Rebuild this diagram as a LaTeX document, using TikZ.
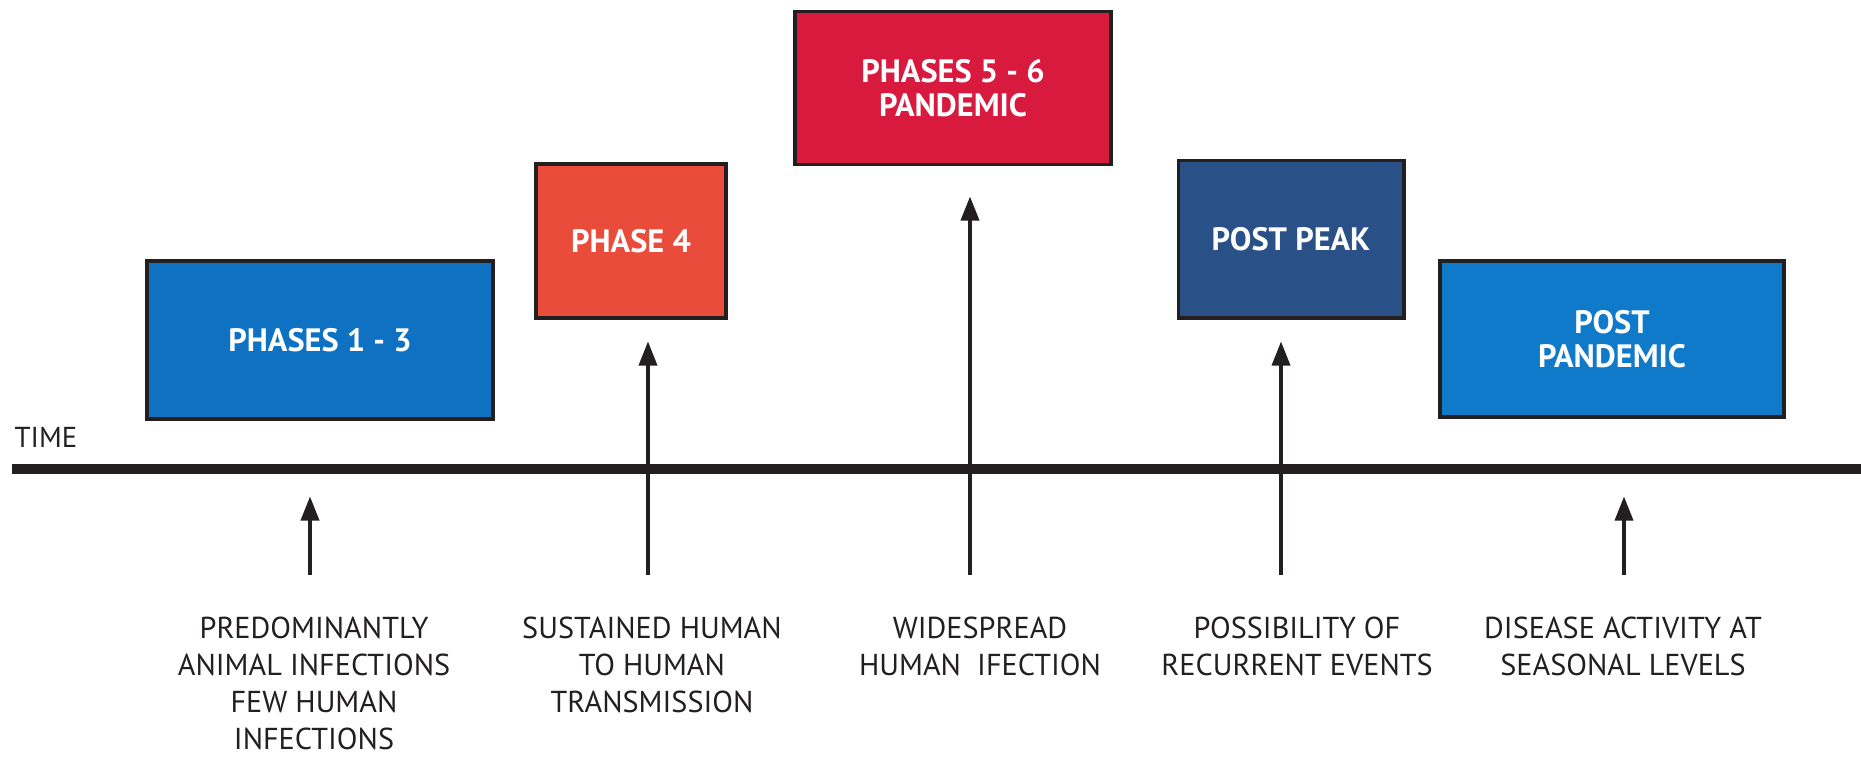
\documentclass[tikz,border=0pt]{standalone}
\usepackage{fontspec}
\setmainfont{PT Sans}
\usetikzlibrary{arrows.meta}
\definecolor{early}{HTML}{0E71C1}
\definecolor{alert}{HTML}{E94C3B}
\definecolor{pandemic}{HTML}{D81A3F}
\definecolor{postpeak}{HTML}{2A5088}
\definecolor{late}{HTML}{0F79CA}
\definecolor{ink}{HTML}{231F20}
\tikzstyle{phase}=[draw=ink,line width=1.1pt,text=white,align=center,inner sep=0pt,
    font=\fontsize{9.2}{9.7}\selectfont\bfseries]
\tikzstyle{event}=[text=ink,align=center,anchor=north,inner sep=0pt,font=\fontsize{8.6}{10.5}\selectfont]
\tikzstyle{rise}=[draw=ink,line width=1.4pt,-{Triangle[width=5pt,length=7pt]}]

\begin{document}
\begin{tikzpicture}[x=0.01cm,y=-0.01cm]
    \useasboundingbox (0,0) rectangle (1861,759);
    \node[phase,fill=early,minimum width=3.45cm,minimum height=1.58cm] (p13) at (320,340) {PHASES 1 - 3};
    \node[phase,fill=alert,minimum width=1.9cm,minimum height=1.54cm] (p4) at (631,241) {PHASE 4};
    \node[phase,fill=pandemic,minimum width=3.16cm,minimum height=1.53cm] (p56) at (953,88) {PHASES 5 - 6\\PANDEMIC};
    \node[phase,fill=postpeak,minimum width=2.25cm,minimum height=1.57cm] (peak) at (1291,239) {POST PEAK};
    \node[phase,fill=late,minimum width=3.44cm,minimum height=1.56cm] (post) at (1612,339) {POST\\PANDEMIC};

    \coordinate (t0) at (12,469);
    \coordinate (t1) at (1861,469);
    \draw[ink,line width=2.8pt] (t0) -- (t1);
    \node[text=ink,anchor=base west,inner sep=0pt,font=\fontsize{8.2}{10}\selectfont] (time) at (14,447) {TIME};

    \node[event] (e1) at (314,616) {PREDOMINANTLY\\ANIMAL INFECTIONS\\FEW HUMAN\\INFECTIONS};
    \node[event] (e2) at (652,616) {SUSTAINED HUMAN\\TO HUMAN\\TRANSMISSION};
    \node[event] (e3) at (980,616) {WIDESPREAD\\HUMAN~~IFECTION};
    \node[event] (e4) at (1297,616) {POSSIBILITY OF\\RECURRENT EVENTS};
    \node[event] (e5) at (1623,616) {DISEASE ACTIVITY AT\\SEASONAL LEVELS};

    \coordinate (b1) at (310,575);
    \coordinate (b2) at (648,575);
    \coordinate (b3) at (970,575);
    \coordinate (b4) at (1281,575);
    \coordinate (b5) at (1624,575);
    \coordinate (h1) at (310,496);
    \coordinate (h2) at (648,341);
    \coordinate (h3) at (970,196);
    \coordinate (h4) at (1281,341);
    \coordinate (h5) at (1624,496);
    \foreach \i in {1,...,5}
        \draw[rise] (b\i) -- (h\i);
\end{tikzpicture}
\end{document}
